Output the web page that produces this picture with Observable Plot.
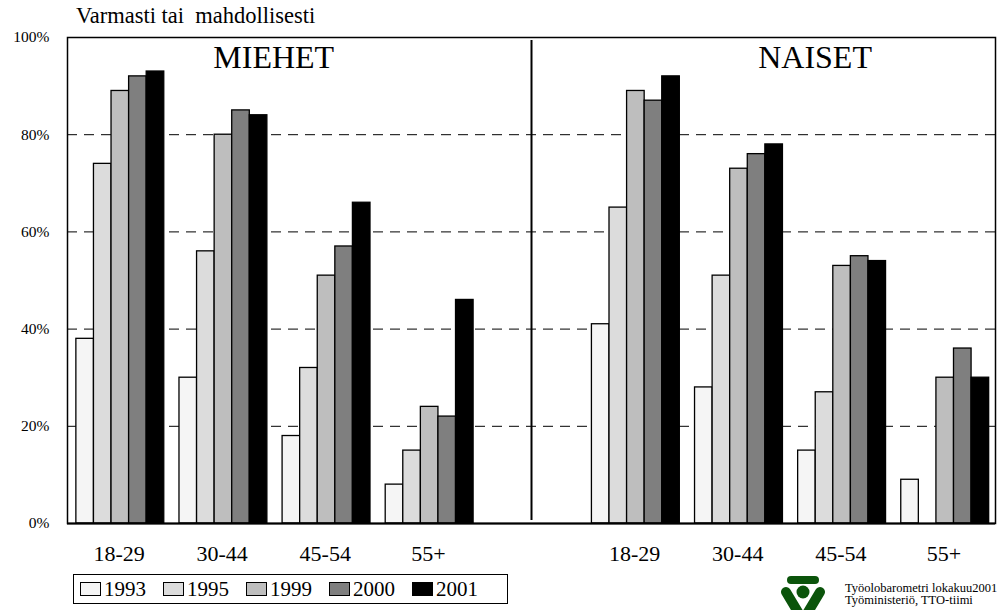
<!DOCTYPE html>
<html><head><meta charset="utf-8">
<script src="https://cdn.jsdelivr.net/npm/d3@7"></script>
<script src="https://cdn.jsdelivr.net/npm/@observablehq/plot@0.6"></script>
<style>
body{margin:0;background:#fff;font-family:"Liberation Serif","Times New Roman",serif;}
#wrap{position:relative;width:1001px;height:610px;overflow:hidden;background:#fff;}
#chart{position:absolute;left:0;top:0;}
#title{position:absolute;left:76px;top:5px;font-size:22.5px;line-height:1;white-space:pre;color:#000;}
#legend{position:absolute;left:73px;top:574px;width:435px;height:30px;border:1.5px solid #000;display:flex;align-items:center;padding-left:6px;box-sizing:border-box;}
.item{display:flex;align-items:center;width:83px;font-size:21px;line-height:1;}
.sw{width:21px;height:14px;border:1.3px solid #000;box-sizing:border-box;margin-right:3px;}
#logo{position:absolute;left:779px;top:574px;}
#source{position:absolute;left:845px;top:582px;font-size:12.5px;line-height:12px;color:#000;white-space:pre;}
</style></head><body>
<div id="wrap">
  <div id="chart"></div>
  <div id="title">Varmasti tai  mahdollisesti</div>
  <div id="legend"></div>
  <svg id="logo" width="48" height="40" viewBox="0 0 48 40">
    <g fill="#0b540b" stroke="#0b540b">
      <line x1="12" y1="6" x2="36" y2="6" stroke-width="8" stroke-linecap="round"/>
      <circle cx="24" cy="18" r="6.5" stroke="none"/>
      <line x1="7" y1="18" x2="19" y2="38" stroke-width="10" stroke-linecap="round"/>
      <line x1="41" y1="18" x2="29" y2="38" stroke-width="10" stroke-linecap="round"/>
    </g>
  </svg>
  <div id="source">Työolobarometri lokakuu2001
Työministeriö, TTO-tiimi</div>
</div>
<script>
const sexes = ["MIEHET", "NAISET"];
const ageGroups = ["18-29", "30-44", "45-54", "55+"];
const years = ["1993", "1995", "1999", "2000", "2001"];
const yearColors = ["#f5f5f5", "#dcdcdc", "#bebebe", "#7f7f7f", "#000000"];
const yTicks = [0, 20, 40, 60, 80, 100];
const gridTicks = [20, 40, 60, 80];

// values (%) per age group, in ageGroups order
const men1993 = [38, 30, 18, 8];
const men1995 = [74, 56, 32, 15];
const men1999 = [89, 80, 51, 24];
const men2000 = [92, 85, 57, 22];
const men2001 = [93, 84, 66, 46];
const women1993 = [41, 28, 15, 9];
const women1995 = [65, 51, 27, null];
const women1999 = [89, 73, 53, 30];
const women2000 = [87, 76, 55, 36];
const women2001 = [92, 78, 54, 30];

const menSeries = [men1993, men1995, men1999, men2000, men2001];
const womenSeries = [women1993, women1995, women1999, women2000, women2001];
const seriesBySex = [menSeries, womenSeries];

// layout in band units: 9 slots (4 men groups, empty slot, 4 women groups)
const slotsPerSex = ageGroups.length + 1;
const groupPad = 0.086;
const barW = 0.1705;

const rows = [];
sexes.forEach((sex, si) => {
  ageGroups.forEach((age, ai) => {
    years.forEach((year, yi) => {
      const v = seriesBySex[si][yi][ai];
      if (v == null) return;
      const g = si * slotsPerSex + ai;
      rows.push({sex, age, year, value: v, x1: g + groupPad + yi * barW, x2: g + groupPad + (yi + 1) * barW});
    });
  });
});

const ageLabels = [];
sexes.forEach((sex, si) => ageGroups.forEach((age, ai) => ageLabels.push({age, x: si * slotsPerSex + ai + 0.5})));

const serif = '"Liberation Serif","Times New Roman",serif';
const plot = Plot.plot({
  width: 1001,
  height: 570,
  marginTop: 37,
  marginBottom: 47,
  marginLeft: 67,
  marginRight: 6,
  style: {fontFamily: serif, color: "#000", background: "transparent"},
  x: {type: "linear", domain: [0, slotsPerSex * 2 - 1], axis: null},
  y: {domain: [0, 100], axis: null},
  color: {type: "ordinal", domain: years, range: yearColors},
  marks: [
    Plot.ruleY(gridTicks, {stroke: "#000", strokeWidth: 1, strokeDasharray: "10,7"}),
    Plot.rectY(rows, {x1: "x1", x2: "x2", y: "value", fill: "year", stroke: "#000", strokeWidth: 1.3}),
    Plot.ruleX([ageGroups.length + 0.5], {stroke: "#000", strokeWidth: 2, insetTop: 3, insetBottom: 3}),
    Plot.frame({stroke: "#000", strokeWidth: 1.5}),
    Plot.ruleY([0], {stroke: "#000", strokeWidth: 2.2}),
    Plot.text(ageLabels, {x: "x", y: () => 0, text: "age", fontSize: 22, dy: 30, fill: "#000", fontFamily: serif}),
    Plot.text(sexes, {x: (d, i) => i === 0 ? 2 : 7.25, y: () => 100, text: d => d, fontSize: 32, dy: 20, fill: "#000", fontFamily: serif}),
    Plot.axisY(yTicks, {fontSize: 15.5, tickSize: 0, tickPadding: 18, label: null, tickFormat: d => d + "%", fontFamily: serif})
  ]
});
document.getElementById("chart").appendChild(plot);

const legend = document.getElementById("legend");
years.forEach((y, i) => {
  const item = document.createElement("div");
  item.className = "item";
  const sw = document.createElement("div");
  sw.className = "sw";
  sw.style.background = yearColors[i];
  const t = document.createElement("span");
  t.textContent = y;
  item.appendChild(sw);
  item.appendChild(t);
  legend.appendChild(item);
});
</script>
</body></html>
